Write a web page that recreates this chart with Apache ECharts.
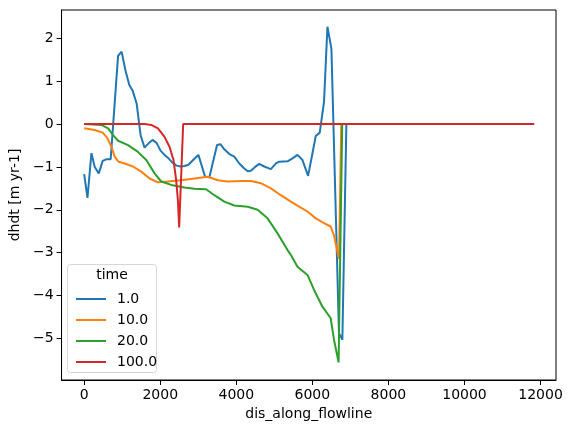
<!DOCTYPE html>
<html>
<head>
<meta charset="utf-8">
<script src="https://cdn.jsdelivr.net/npm/echarts@6/dist/echarts.min.js"></script>
<style>
  html, body { margin: 0; padding: 0; background: #fff; }
  #chart { width: 572px; height: 433px; }
</style>
</head>
<body>
<div id="chart"></div>
<script>
// values
const seriesNames = ['1.0', '10.0', '20.0', '100.0']
const xTicks = [0, 2000, 4000, 6000, 8000, 10000, 12000]
const yTicks = [-5, -4, -3, -2, -1, 0, 1, 2]

const blueX = [0, 87, 191, 278, 383, 488, 592, 697, 891, 985, 1083, 1187, 1274, 1379, 1484, 1588, 1693, 1798, 1903, 2008, 2113, 2218, 2322, 2427, 2532, 2637, 2742, 2865, 3004, 3180, 3292, 3494, 3581, 3685, 3817, 3948, 4079, 4190, 4299, 4385, 4495, 4603, 4734, 4909, 5049, 5127, 5347, 5478, 5609, 5741, 5887, 6003, 6089, 6194, 6307, 6396, 6501, 6700, 6789, 6894, 11830]
const blueY = [-1.17, -1.72, -0.68, -1.0, -1.15, -0.86, -0.82, -0.82, 1.59, 1.69, 1.26, 0.91, 0.78, 0.48, -0.26, -0.55, -0.45, -0.37, -0.44, -0.62, -0.72, -0.80, -0.90, -0.97, -0.99, -0.98, -0.95, -0.84, -0.72, -1.23, -1.24, -0.49, -0.47, -0.59, -0.70, -0.76, -0.92, -1.02, -1.10, -1.09, -1.0, -0.93, -0.99, -1.05, -0.91, -0.88, -0.87, -0.80, -0.72, -0.84, -1.21, -0.68, -0.28, -0.20, 0.52, 2.27, 1.76, -4.88, -5.03, 0, 0]

const orangeX = [0, 278, 488, 611, 716, 802, 907, 1064, 1284, 1502, 1720, 1940, 2202, 2550, 2899, 3250, 3512, 3775, 4123, 4385, 4647, 4909, 5171, 5433, 5695, 5871, 6089, 6307, 6482, 6569, 6700, 6760, 11830]
const orangeY = [-0.10, -0.14, -0.20, -0.33, -0.53, -0.76, -0.88, -0.92, -0.99, -1.11, -1.27, -1.36, -1.34, -1.31, -1.27, -1.23, -1.31, -1.34, -1.33, -1.33, -1.38, -1.50, -1.66, -1.81, -1.95, -2.04, -2.20, -2.31, -2.39, -2.60, -3.15, 0, 0]

const greenX = [0, 453, 629, 760, 891, 1153, 1415, 1633, 1851, 2026, 2288, 2637, 2899, 3206, 3423, 3685, 3948, 4299, 4561, 4823, 5085, 5347, 5433, 5609, 5871, 6045, 6265, 6482, 6569, 6690, 6785, 11830]
const greenY = [0, -0.02, -0.10, -0.26, -0.39, -0.49, -0.65, -0.84, -1.15, -1.34, -1.42, -1.48, -1.51, -1.52, -1.66, -1.81, -1.90, -1.93, -2.0, -2.2, -2.55, -2.94, -3.05, -3.33, -3.52, -3.87, -4.26, -4.53, -5.03, -5.56, 0, 0]

const redX = [0, 1588, 1764, 1940, 2113, 2244, 2349, 2419, 2464, 2498, 2603, 11830]
const redY = [0, 0, -0.02, -0.10, -0.30, -0.53, -0.84, -1.31, -1.77, -2.41, 0, 0]

const colors = ['#1f77b4', '#ff7f0e', '#2ca02c', '#d62728']
const font = 'DejaVu Sans'

const pairs = (xs, ys) => xs.map((x, i) => [x, ys[i]])
const lineData = [pairs(blueX, blueY), pairs(orangeX, orangeY), pairs(greenX, greenY), pairs(redX, redY)]

const chart = echarts.init(document.getElementById('chart'))

const option = {
  animation: false,
  color: colors,
  grid: {
    left: 60, right: 16, top: 10, bottom: 53,
    show: true, borderColor: '#000', borderWidth: 1
  },
  xAxis: {
    type: 'value',
    min: -595, max: 12406,
    name: 'dis_along_flowline',
    nameLocation: 'middle',
    nameGap: 26,
    nameTextStyle: { fontFamily: font, fontSize: 14, color: '#000' },
    splitLine: { show: false },
    axisLine: { onZero: false, lineStyle: { color: '#000', width: 1 } },
    axisTick: { length: 5, lineStyle: { color: '#000' }, customValues: xTicks },
    axisLabel: {
      fontFamily: font, fontSize: 14, color: '#000', margin: 8, customValues: xTicks,
      formatter: v => String(v)
    }
  },
  yAxis: {
    type: 'value',
    min: -5.97, max: 2.66,
    name: 'dhdt [m yr-1]',
    nameLocation: 'middle',
    nameGap: 39,
    nameTextStyle: { fontFamily: font, fontSize: 14, color: '#000' },
    splitLine: { show: false },
    axisLine: { show: true, onZero: false, lineStyle: { color: '#000', width: 1 } },
    axisTick: { show: true, length: 5, lineStyle: { color: '#000' }, customValues: yTicks },
    axisLabel: {
      fontFamily: font, fontSize: 14, color: '#000', margin: 8, customValues: yTicks,
      formatter: v => String(v).replace('-', '\u2212')
    }
  },
  legend: {
    orient: 'vertical',
    left: 71, top: 287,
    z: 10,
    icon: 'rect',
    itemWidth: 30, itemHeight: 2,
    itemGap: 7,
    textStyle: { fontFamily: font, fontSize: 14, color: '#000', padding: [0, 0, 0, 6] },
    data: seriesNames
  },
  graphic: [
    {
      type: 'rect', z: 5,
      shape: { x: 67.5, y: 264.5, width: 89, height: 108, r: 3 },
      style: { fill: 'rgba(255,255,255,0.8)', stroke: '#d6d6d6', lineWidth: 1 }
    },
    {
      type: 'text', z: 6,
      x: 112, y: 275,
      style: { text: 'time', fontFamily: font, fontSize: 14, fill: '#000', align: 'center', verticalAlign: 'middle' }
    }
  ],
  series: seriesNames.map((name, i) => ({
    name,
    type: 'line',
    data: lineData[i],
    showSymbol: false,
    lineStyle: { width: 2, color: colors[i] },
    itemStyle: { color: colors[i] },
    z: 2 + i
  }))
}

chart.setOption(option)
</script>
</body>
</html>
